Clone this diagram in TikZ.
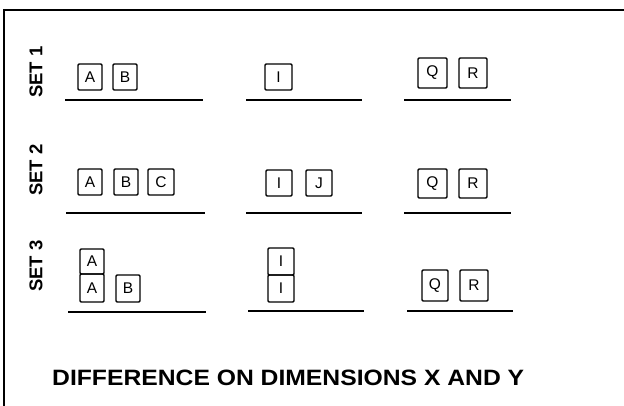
\documentclass[tikz,border=0pt]{standalone}
\usepackage{fontspec}
\setmainfont{Liberation Sans}
\newcommand\bx[6]{\node[lbox,minimum width={#4pt-#2pt},minimum height={#5pt-#3pt}] (#1) at ({(#2+#4)/2},{(#3+#5)/2}) {#6};}
\begin{document}
\begin{tikzpicture}[x=1pt,y=-1pt,
  lbox/.style={draw,line width=1.4pt,rounded corners=1.2pt,inner sep=0pt,font=\fontsize{15.5}{15.5}\selectfont},
  shelf/.style={line width=2.4pt},
  frame/.style={line width=1.5pt},
  setlabel/.style={rotate=90,font=\fontsize{18.5}{18.5}\selectfont\bfseries,inner sep=0pt}]
\useasboundingbox (0,0) rectangle (624,406);
\draw[frame] (4,406) -- (4,10) -- (624,10);
% set labels
\node[setlabel] (s1) at (36,72) {SET 1};
\node[setlabel] (s2) at (36,170) {SET 2};
\node[setlabel] (s3) at (36,266) {SET 3};
% set 1
\bx{a1}{78}{64}{102}{90}{A}
\bx{b1}{113}{64}{137}{90}{B}
\draw[shelf] (65,100) -- (203,100);
\bx{i1}{265}{64}{292}{90}{I}
\draw[shelf] (246,100) -- (362,100);
\bx{q1}{418}{58}{447}{88}{Q}
\bx{r1}{459}{58}{487}{88}{R}
\draw[shelf] (404,100) -- (511,100);
% set 2
\bx{a2}{78}{169}{102}{195}{A}
\bx{b2}{114}{169}{138}{195}{B}
\bx{c2}{148}{169}{174}{195}{C}
\draw[shelf] (66,213) -- (205,213);
\bx{i2}{266}{170}{292}{196}{I}
\bx{j2}{306}{170}{332}{196}{J}
\draw[shelf] (246,213) -- (362,213);
\bx{q2}{418}{169}{447}{198}{Q}
\bx{r2}{459}{169}{487}{198}{R}
\draw[shelf] (404,213) -- (511,213);
% set 3
\bx{a3t}{80}{249}{104}{274}{A}
\bx{a3}{80}{274}{104}{302}{A}
\bx{b3}{116}{275}{140}{302}{B}
\draw[shelf] (68,312) -- (206,312);
\bx{i3t}{268}{248}{294}{275}{I}
\bx{i3}{268}{275}{294}{302}{I}
\draw[shelf] (248,311) -- (364,311);
\bx{q3}{422}{270}{448}{301}{Q}
\bx{r3}{460}{270}{488}{301}{R}
\draw[shelf] (407,311) -- (513,311);
% title
\node[anchor=south west,inner sep=0pt] (title) at (52,386) {\resizebox{472pt}{15.5pt}{\bfseries DIFFERENCE ON DIMENSIONS X AND Y}};
\end{tikzpicture}
\end{document}
